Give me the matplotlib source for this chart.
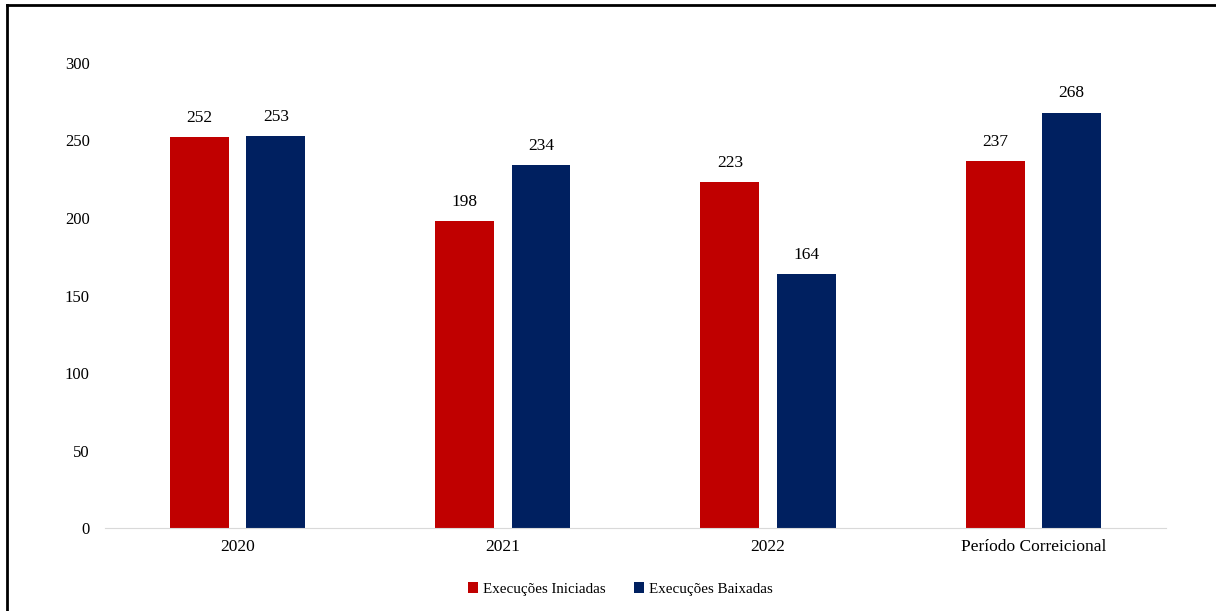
import numpy as np
import matplotlib.pyplot as plt
from matplotlib.lines import Line2D

plt.rcParams["font.family"] = "Liberation Serif"
plt.rcParams["font.size"] = 12

categorias = ["2020", "2021", "2022", "Período Correicional"]
iniciadas = [252, 198, 223, 237]
baixadas = [253, 234, 164, 268]

vermelho = "#C00000"
azul = "#002060"

fig = plt.figure(figsize=(12.16, 6.11), dpi=100)
ax = fig.add_axes([0.0863, 0.1358, 0.8726, 0.7611])

x = np.arange(len(categorias))
w = 0.222
b1 = ax.bar(x - 0.144, iniciadas, w, color=vermelho, label="Execuções Iniciadas")
b2 = ax.bar(x + 0.144, baixadas, w, color=azul, label="Execuções Baixadas")

for c in (b1, b2):
    ax.bar_label(c, padding=8, fontsize=12.5)

ax.set_xlim(-0.5, 3.5)
ax.set_ylim(0, 300)
ax.set_yticks(range(0, 301, 50))
ax.set_xticks(x, categorias)
ax.tick_params(axis="y", length=0, pad=11, labelsize=12)
ax.tick_params(axis="x", length=0, pad=8, labelsize=12.5)

for s in ["top", "right", "left"]:
    ax.spines[s].set_visible(False)
ax.spines["bottom"].set_color("#D9D9D9")

fig.legend(loc="center", bbox_to_anchor=(0.51, 0.036), ncol=2, frameon=False,
           fontsize=10.8, handlelength=0.7, handleheight=0.7, handletextpad=0.3,
           columnspacing=1.9)

# moldura (só topo e esquerda)
fig.add_artist(Line2D([0.0058, 1.0], [0.9910, 0.9910], color="black", lw=2, transform=fig.transFigure))
fig.add_artist(Line2D([0.0058, 0.0058], [0.0, 0.9910], color="black", lw=2, transform=fig.transFigure))

plt.savefig("out.png", dpi=100)
